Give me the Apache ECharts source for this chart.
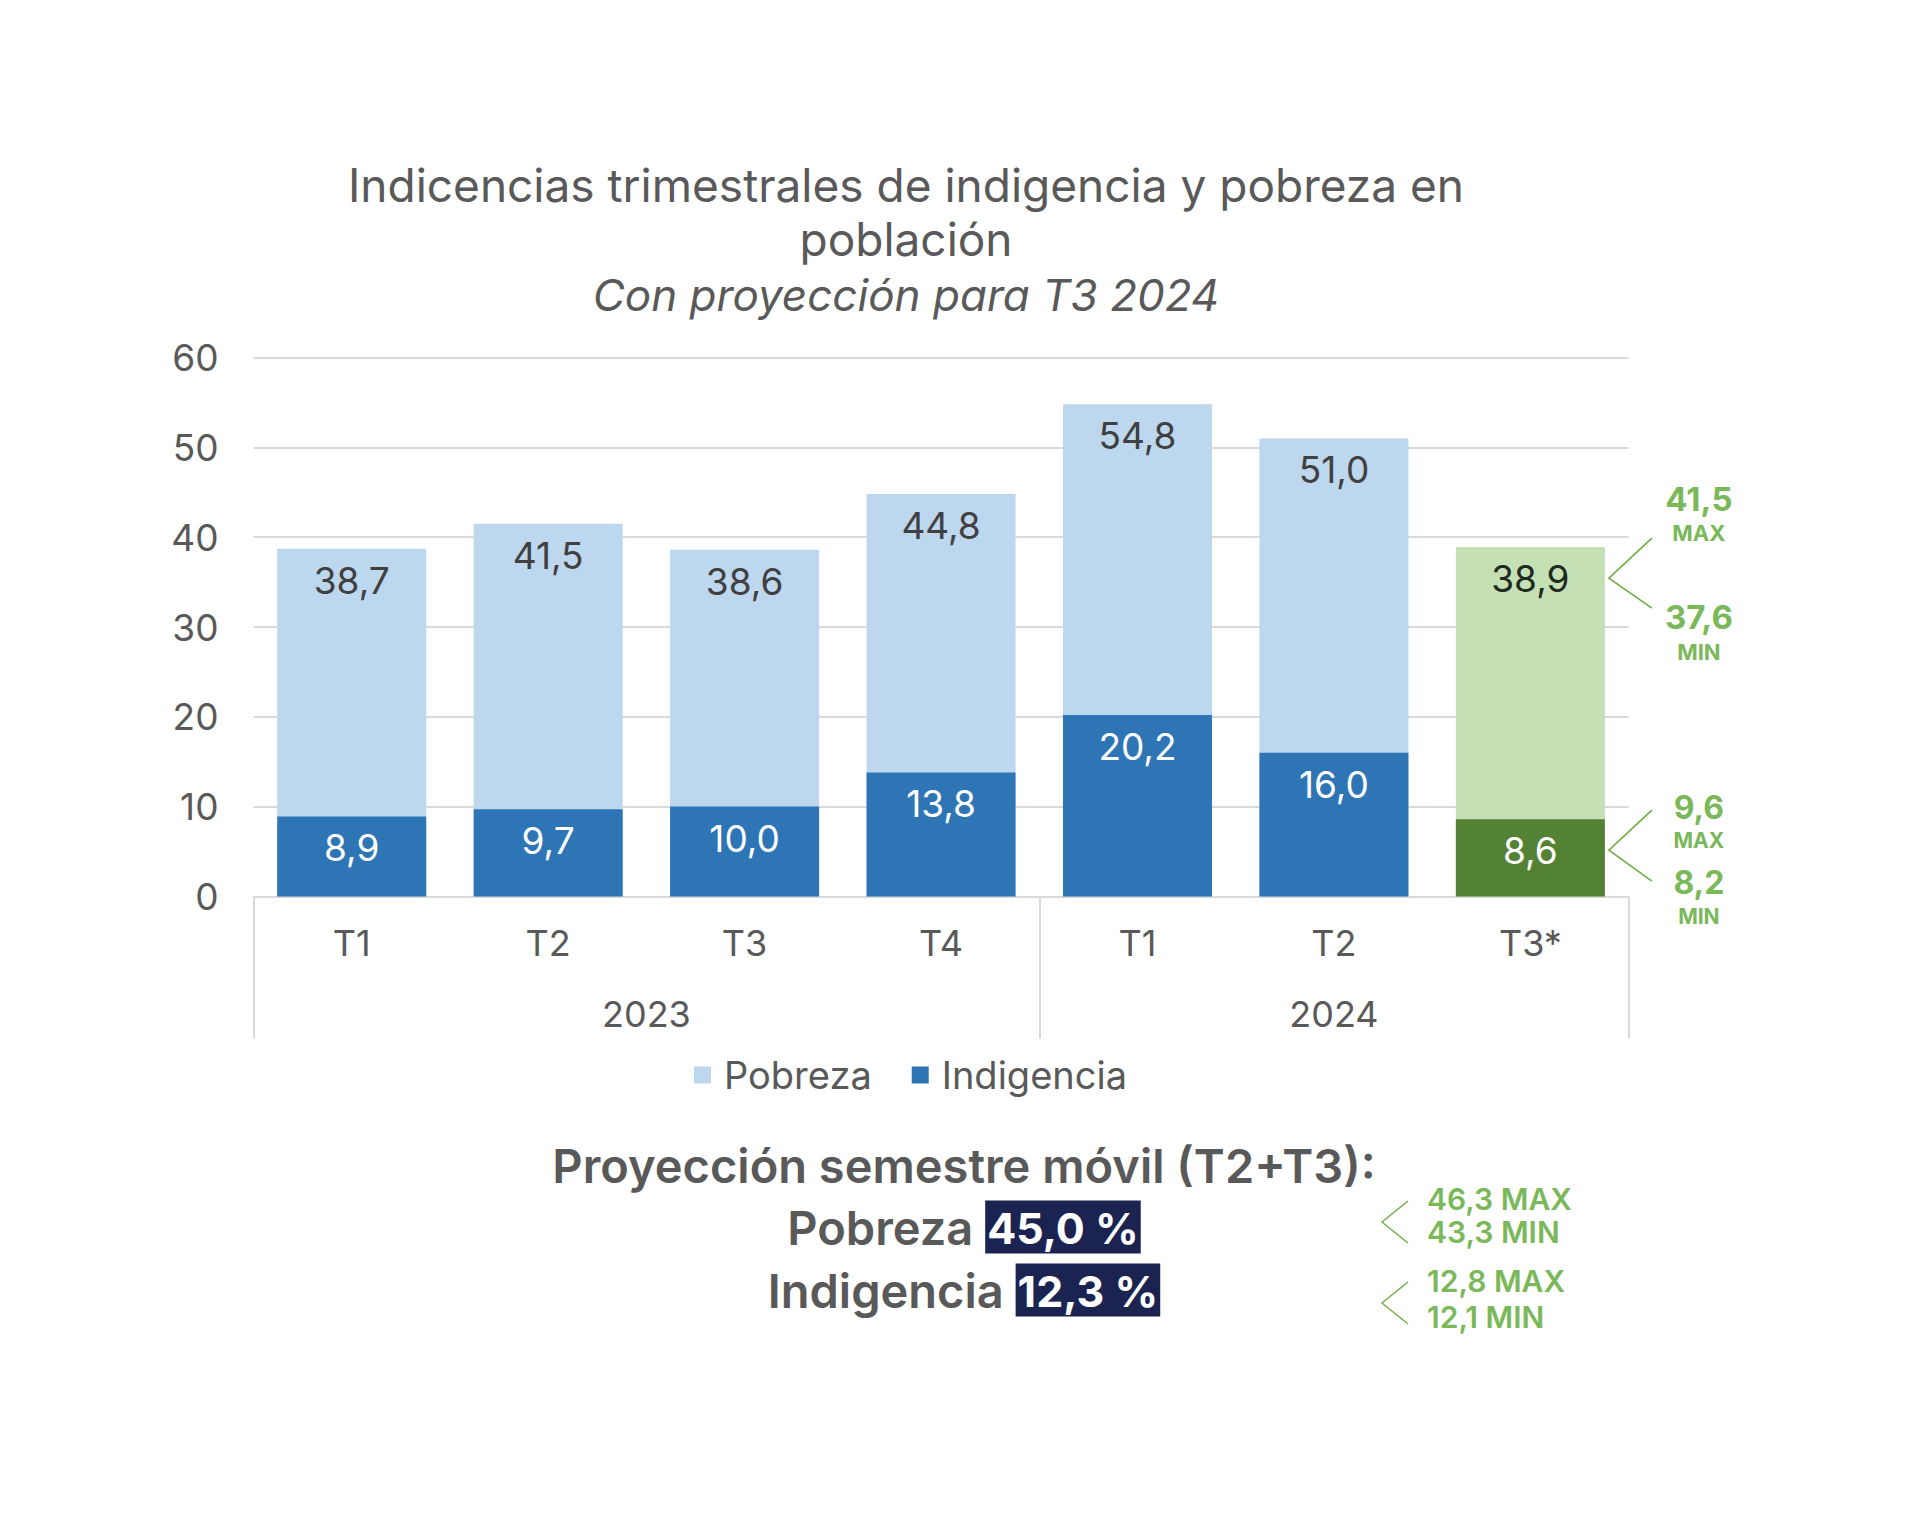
<!DOCTYPE html>
<html><head><meta charset="utf-8">
<script src="https://cdn.jsdelivr.net/npm/echarts@6/dist/echarts.min.js"></script>
<style>html,body{margin:0;padding:0;background:#fff}#c{width:1920px;height:1520px}</style>
</head><body><div id="c"></div>
<script>
const quarters = ['T1','T2','T3','T4','T1','T2','T3*'];
const years = ['2023','2024'];
const quartersPerYear = [4, 3];
const pobreza = [38.7, 41.5, 38.6, 44.8, 54.8, 51.0, 38.9];
const indigencia = [8.9, 9.7, 10.0, 13.8, 20.2, 16.0, 8.6];
const projectedIndex = 6;
const pobrezaRange = [41.5, 37.6];      // max, min
const indigenciaRange = [9.6, 8.2];     // max, min
const semestreTitle = 'Proyección semestre móvil (T2+T3):';
const semestrePobreza = 45.0;
const semestrePobrezaRange = [46.3, 43.3];
const semestreIndigencia = 12.3;
const semestreIndigenciaRange = [12.8, 12.1];

const FF = 'Inter, "Open Sans", sans-serif';
const GRAY = '#595959';
const GREEN_TXT = '#7ab85a';
const GREEN_LINE = '#70ad47';
const fmt = v => v.toFixed(1).replace('.', ',');

// year label centers from quarter counts
const yearCenters = [];
const yearBounds = [0];
let acc = 0;
quartersPerYear.forEach(n => { yearCenters.push(acc + n / 2); acc += n; yearBounds.push(acc); });

const chart = echarts.init(document.getElementById('c'), null, {renderer: 'svg'});

const pobData = pobreza.map((v, i) => i === projectedIndex
  ? {value: v, itemStyle: {color: '#c5e0b4'}, label: {color: '#1e2a1e'}} : v);
const indData = indigencia.map((v, i) => i === projectedIndex
  ? {value: v, itemStyle: {color: '#548235'}} : v);

chart.setOption({
  animation: false,
  backgroundColor: '#fff',
  textStyle: {fontFamily: FF},
  title: {
    text: 'Indicencias trimestrales de indigencia y pobreza en\npoblación',
    subtext: 'Con proyección para T3 2024',
    left: 906, top: 158, textAlign: 'center', padding: 0, itemGap: 6,
    textStyle: {fontFamily: FF, fontSize: 46, fontWeight: 400, color: GRAY, lineHeight: 54},
    subtextStyle: {fontFamily: FF, fontSize: 44, fontStyle: 'italic', color: GRAY, lineHeight: 46}
  },
  legend: {
    left: 689, top: 1051, itemWidth: 17, itemHeight: 17, itemGap: 40,
    icon: 'rect',
    data: ['Pobreza', 'Indigencia'],
    textStyle: {fontFamily: FF, fontSize: 38, color: GRAY, padding: [0, 0, 0, 8]}
  },
  grid: {left: 253.5, right: 291.4, top: 357.6, bottom: 623.6},
  xAxis: [{
    type: 'category', data: quarters,
    axisLine: {lineStyle: {color: '#d9d9d9', width: 2}},
    axisTick: {show: false},
    axisLabel: {fontFamily: FF, fontSize: 36, color: GRAY, margin: 29}
  }, {
    type: 'value', min: 0, max: quarters.length, position: 'bottom',
    axisLine: {show: false}, splitLine: {show: false},
    axisTick: {show: true, customValues: yearBounds, length: 142, lineStyle: {color: '#d9d9d9', width: 2}},
    axisLabel: {customValues: yearCenters, fontFamily: FF, fontSize: 36, color: GRAY, margin: 100,
      formatter: v => { const k = yearCenters.indexOf(v); return k >= 0 ? years[k] : ''; }}
  }],
  yAxis: {
    type: 'value', min: 0, max: 60, interval: 10,
    axisLine: {show: false}, axisTick: {show: false},
    axisLabel: {fontFamily: FF, fontSize: 37, color: GRAY, margin: 35},
    splitLine: {lineStyle: {color: '#d9d9d9', width: 2}}
  },
  series: [{
    name: 'Pobreza', type: 'bar', data: pobData, barWidth: 149, barGap: '-100%',
    itemStyle: {color: '#bdd7ee'},
    label: {show: true, position: 'insideTop', distance: 13, fontFamily: FF, fontSize: 37, color: '#404040',
      formatter: p => fmt(p.value)}
  }, {
    name: 'Indigencia', type: 'bar', data: indData, barWidth: 149, barGap: '-100%',
    itemStyle: {color: '#2e75b6'},
    label: {show: true, position: 'insideTop', distance: 13, fontFamily: FF, fontSize: 37, color: '#ffffff',
      formatter: p => fmt(p.value)}
  }]
});

// annotations anchored to the projected bars
const barW = 149;
function anchor(val) {
  const p = chart.convertToPixel({xAxisIndex: 0, yAxisIndex: 0}, [projectedIndex, val]);
  return [p[0] + barW / 2 + 4, p[1] + 31];
}
const g = [];
function chevron(ax, ay, up, down, dx) {
  g.push({type: 'polyline', shape: {points: [[ax + dx, ay - up], [ax, ay], [ax + dx, ay + down]]},
    style: {stroke: GREEN_LINE, lineWidth: 1.6, fill: null}});
}
function gtext(x, y, txt, size, weight, align) {
  g.push({type: 'text', x: x, y: y, style: {text: txt, fontFamily: FF, fontSize: size, fontWeight: weight,
    lineHeight: size, fill: GREEN_TXT, align: align || 'center', verticalAlign: 'middle'}});
}
const a1 = anchor(pobreza[projectedIndex]);
chevron(a1[0], a1[1], 40, 30, 43);
gtext(a1[0] + 90, a1[1] - 79, fmt(pobrezaRange[0]), 33, 700);
gtext(a1[0] + 90, a1[1] - 45, 'MAX', 22, 700);
gtext(a1[0] + 90, a1[1] + 39, fmt(pobrezaRange[1]), 33, 700);
gtext(a1[0] + 90, a1[1] + 74, 'MIN', 22, 700);
const a2 = anchor(indigencia[projectedIndex]);
chevron(a2[0], a2[1], 40, 31, 43);
gtext(a2[0] + 90, a2[1] - 43, fmt(indigenciaRange[0]), 32, 700);
gtext(a2[0] + 90, a2[1] - 10, 'MAX', 21, 700);
gtext(a2[0] + 90, a2[1] + 32, fmt(indigenciaRange[1]), 32, 700);
gtext(a2[0] + 90, a2[1] + 66, 'MIN', 21, 700);

// bottom summary block
const cx = 964;
g.push({type: 'text', x: cx, y: 1165, style: {text: semestreTitle, fontFamily: FF, fontSize: 47, fontWeight: 600,
  fill: GRAY, align: 'center', verticalAlign: 'middle'}});
const rich = {
  a: {fontFamily: FF, fontSize: 47, fontWeight: 600, fill: GRAY},
  b: {fontFamily: FF, fontSize: 43, fontWeight: 700, fill: '#ffffff', backgroundColor: '#1b2350', padding: [6, 2, 4, 2]}
};
g.push({type: 'text', x: cx, y: 1227, style: {text: '{a|Pobreza }{b|' + fmt(semestrePobreza) + ' %}', rich: rich,
  align: 'center', verticalAlign: 'middle'}});
g.push({type: 'text', x: cx, y: 1290, style: {text: '{a|Indigencia }{b|' + fmt(semestreIndigencia) + ' %}', rich: rich,
  align: 'center', verticalAlign: 'middle'}});
function smallChev(ax, ay) {
  g.push({type: 'polyline', shape: {points: [[ax + 26, ay - 21], [ax, ay], [ax + 26, ay + 21]]},
    style: {stroke: GREEN_LINE, lineWidth: 1.4, fill: null}});
}
smallChev(1382, 1222);
smallChev(1382, 1303);
gtext(1427, 1199, fmt(semestrePobrezaRange[0]) + ' MAX', 30, 600, 'left');
gtext(1427, 1232, fmt(semestrePobrezaRange[1]) + ' MIN', 30, 600, 'left');
gtext(1427, 1281, fmt(semestreIndigenciaRange[0]) + ' MAX', 30, 600, 'left');
gtext(1427, 1317, fmt(semestreIndigenciaRange[1]) + ' MIN', 30, 600, 'left');

chart.setOption({graphic: g});
</script></body></html>
